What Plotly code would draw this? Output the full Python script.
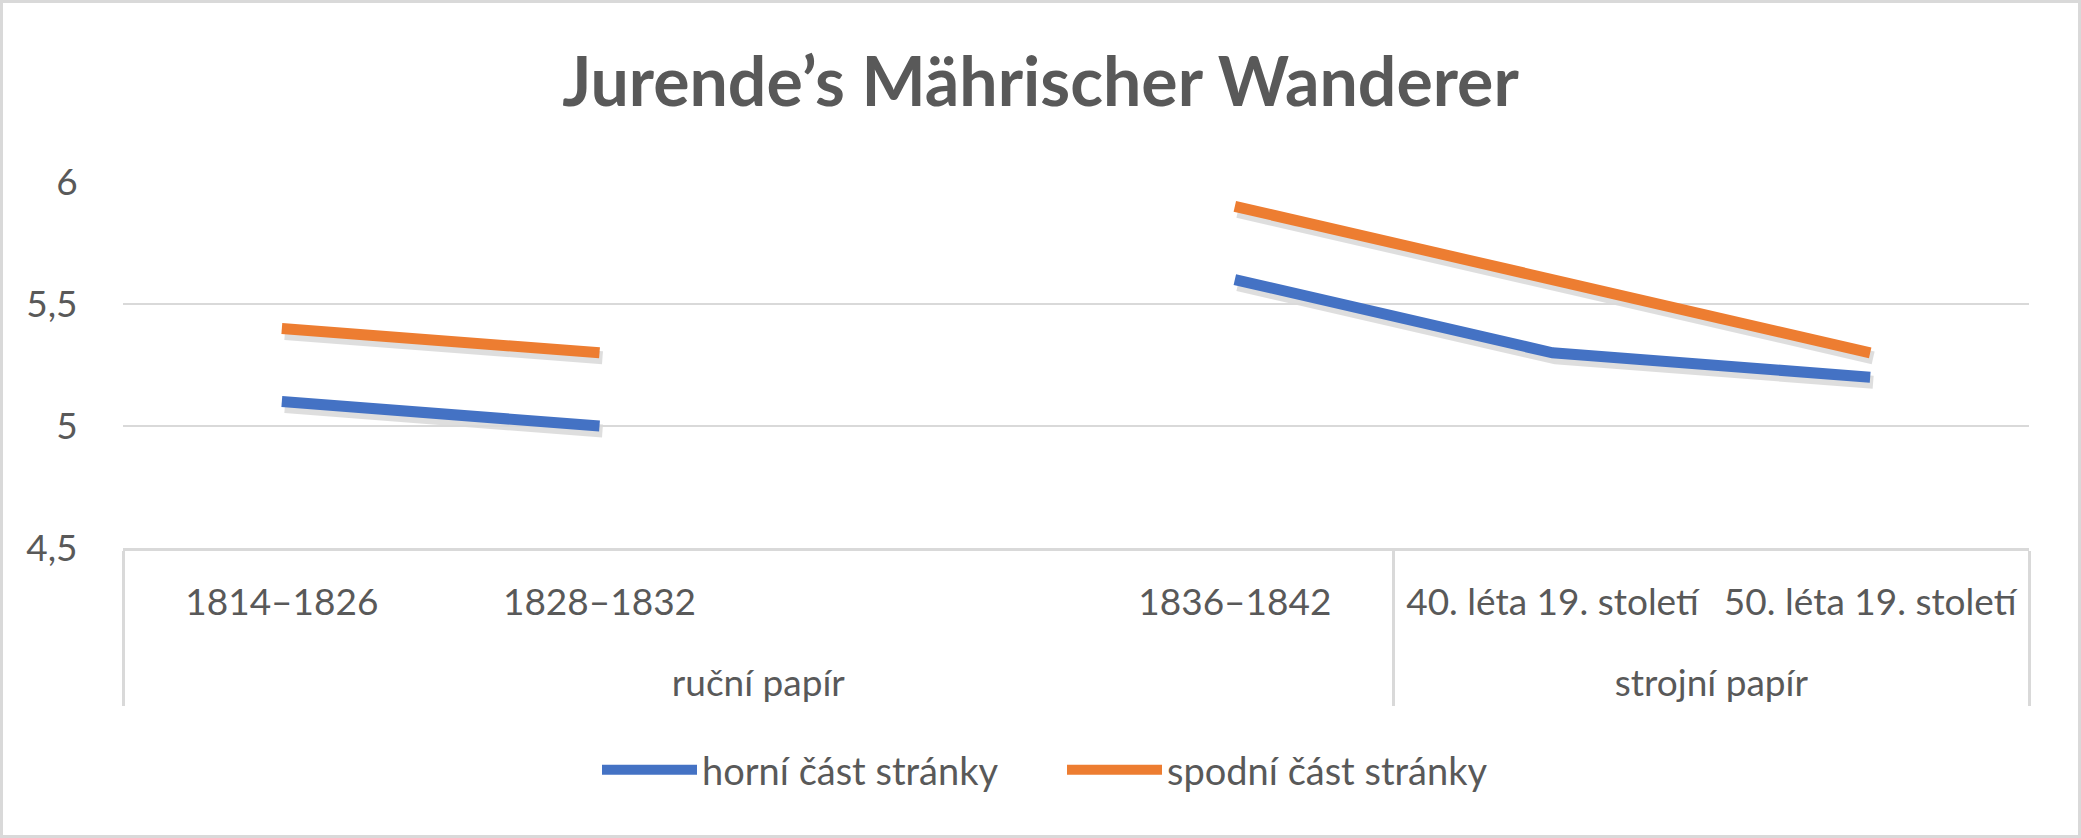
import plotly.graph_objects as go

# ---- data ----
groups = ["ruční papír", "ruční papír", "ruční papír", "ruční papír", "strojní papír", "strojní papír"]
periods = ["1814–1826", "1828–1832", " ", "1836–1842", "40. léta 19. století", "50. léta 19. století"]
horni = [5.1, 5.0, None, 5.6, 5.3, 5.2]
spodni = [5.4, 5.3, None, 5.9, 5.6, 5.3]
series_names = ["horní část stránky", "spodní část stránky"]
y_ticks = [4.5, 5, 5.5, 6]
y_labels = ["4,5", "5", "5,5", "6"]

BLUE = "#4472C4"
ORANGE = "#ED7D31"
TXT = "#595959"
GRID = "#D9D9D9"
FONT = "Lato"

W, H = 2081, 838
SX, SY = 3, 5  # shadow offset px
L, R, T, B = 123, 52 - SX, 182, 290 - SY
PW, PH = W - L - R, H - T - B
dx, dy = SX / PW, SY / PH

# displayed category labels: extra blank line pushes the group row down
period_lbl = [p + "<br><sub> </sub>" for p in periods]
xcat = [groups, period_lbl]

fig = go.Figure()

# shadow traces (subplot 1, shifted domain)
for vals in (horni, spodni):
    fig.add_trace(go.Scatter(x=xcat, y=vals, mode="lines",
                             line=dict(color="rgba(0,0,0,0.13)", width=13),
                             connectgaps=False, showlegend=False, hoverinfo="skip",
                             xaxis="x", yaxis="y"))

# main traces (subplot 2)
for vals, name, col in ((horni, series_names[0], BLUE), (spodni, series_names[1], ORANGE)):
    fig.add_trace(go.Scatter(x=xcat, y=vals, mode="lines", name=name,
                             line=dict(color=col, width=11), connectgaps=False,
                             xaxis="x2", yaxis="y2"))

fig.update_layout(
    width=W, height=H,
    margin=dict(l=L, r=R, t=T, b=B),
    paper_bgcolor="white", plot_bgcolor="rgba(0,0,0,0)",
    font=dict(family=FONT, color=TXT, size=37),
    title=dict(text="<b>Jurende’s Mährischer Wanderer</b>", x=0.5, xanchor="center",
               y=1 - 82 / H, yanchor="middle",
               font=dict(family=FONT, size=68, color=TXT)),
    xaxis=dict(domain=[dx, 1], range=[-0.5, 5.5], visible=False, type="multicategory"),
    yaxis=dict(domain=[0, 1 - dy], range=[4.5, 6], visible=False),
    xaxis2=dict(domain=[0, 1 - dx], range=[-0.5, 5.5], type="multicategory", anchor="y2",
                showline=True, linecolor=GRID, linewidth=3,
                showdividers=True, dividercolor=GRID, dividerwidth=3,
                ticklabelstandoff=20,
                tickfont=dict(family=FONT, size=37, color=TXT), showgrid=False),
    yaxis2=dict(domain=[dy, 1], range=[4.5, 6], anchor="x2",
                tickvals=y_ticks, ticktext=y_labels, showgrid=True, gridcolor=GRID,
                gridwidth=2, zeroline=False, showline=False,
                ticks="outside", ticklen=37, tickcolor="rgba(0,0,0,0)",
                tickfont=dict(family=FONT, size=37, color=TXT)),
    legend=dict(orientation="h", x=(597 - L) / PW, xanchor="left",
                y=(H - B - 770) / PH, yanchor="middle",
                font=dict(family=FONT, size=38, color=TXT), itemwidth=95,
                entrywidth=355, entrywidthmode="pixels",
                bgcolor="rgba(0,0,0,0)"),
    shapes=[dict(type="rect", xref="paper", yref="paper",
                 x0=(1.5 - L) / PW, x1=(W - 1.5 - L) / PW,
                 y0=(H - B - (H - 1.5)) / PH, y1=(H - B - 1.5) / PH,
                 line=dict(color=GRID, width=3), layer="below")],
)

fig.write_html("out.html")
